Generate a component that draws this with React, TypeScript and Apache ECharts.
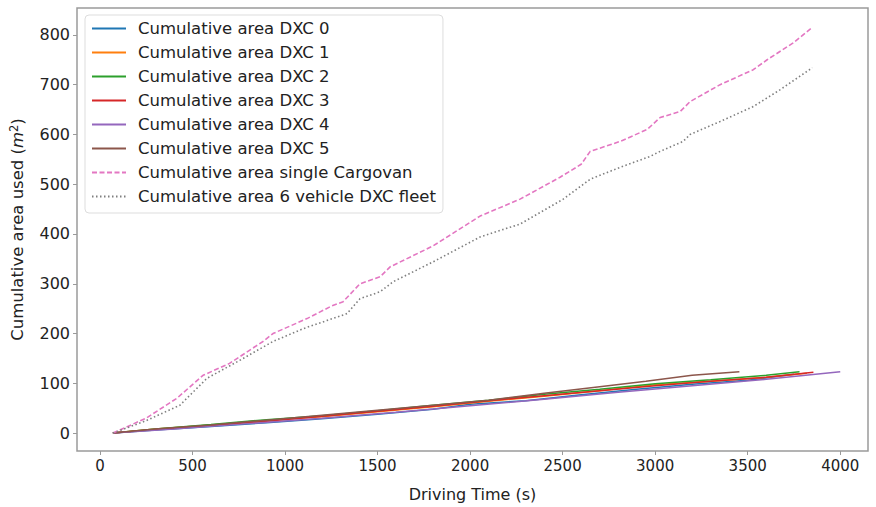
import React, { useEffect, useRef } from "react";
import * as echarts from "echarts";

const seriesNames = [
  "Cumulative area DXC 0",
  "Cumulative area DXC 1",
  "Cumulative area DXC 2",
  "Cumulative area DXC 3",
  "Cumulative area DXC 4",
  "Cumulative area DXC 5",
  "Cumulative area single Cargovan",
  "Cumulative area 6 vehicle DXC fleet",
];

const dxc0 = [[70,0],[300,6],[600,13],[900,21],[1200,29],[1500,38],[1800,48],[2000,58],[2300,65],[2600,77],[2900,88],[3200,98],[3500,106],[3750,118]];
const dxc1 = [[70,0],[300,8],[600,16],[900,25],[1200,33],[1500,43],[1800,53],[2100,64],[2400,74],[2700,85],[3000,97],[3300,104],[3600,112],[3820,120]];
const dxc2 = [[70,0],[300,8],[600,17],[900,27],[1200,35],[1500,45],[1800,56],[2100,66],[2400,78],[2700,88],[3000,99],[3300,107],[3600,116],[3780,123]];
const dxc3 = [[70,0],[300,7],[600,15],[900,24],[1200,34],[1500,44],[1800,54],[2100,65],[2400,75],[2700,85],[3000,95],[3300,104],[3600,112],[3855,122]];
const dxc4 = [[70,0],[400,8],[800,19],[1200,30],[1600,42],[2000,55],[2400,68],[2800,82],[3200,95],[3600,108],[4000,123]];
const dxc5 = [[70,0],[300,8],[600,16],[900,26],[1200,36],[1500,46],[1800,56],[2100,66],[2400,80],[2700,93],[2950,104],[3200,116],[3455,123]];
const cargovan = [[70,0],[250,30],[416,70],[557,116],[700,140],[881,184],[935,200],[1119,230],[1250,255],[1314,264],[1405,300],[1514,314],[1568,334],[1800,376],[2054,436],[2270,470],[2486,514],[2600,540],[2649,566],[2811,586],[2957,610],[3027,634],[3135,646],[3189,666],[3351,700],[3530,730],[3605,750],[3746,784],[3849,815]];
const fleet = [[70,0],[250,25],[432,56],[578,110],[750,145],[935,184],[1100,210],[1335,240],[1405,270],[1514,284],[1584,304],[1800,344],[2054,394],[2270,420],[2503,470],[2649,510],[2811,534],[2973,556],[3027,566],[3151,586],[3189,600],[3351,626],[3530,656],[3676,690],[3849,734]];

const xTicks = [0, 500, 1000, 1500, 2000, 2500, 3000, 3500, 4000];
const yTicks = [0, 100, 200, 300, 400, 500, 600, 700, 800];

const colors = ["#1f77b4", "#ff7f0e", "#2ca02c", "#d62728", "#9467bd", "#8c564b", "#e377c2", "#7f7f7f"];
const dataList = [dxc0, dxc1, dxc2, dxc3, dxc4, dxc5, cargovan, fleet];

export default function App() {
  const ref = useRef<HTMLDivElement>(null);
  useEffect(() => {
    if (!ref.current) return;
    const chart = echarts.init(ref.current, null, { renderer: "svg" });
    const font = "DejaVu Sans";
    const series = dataList.map((d, i) => ({
      name: seriesNames[i],
      type: "line",
      data: d,
      symbol: "none",
      showSymbol: false,
      lineStyle: {
        color: colors[i],
        width: i >= 6 ? 1.6 : 1.5,
        type: i === 6 ? [5, 2.5] : i === 7 ? [1.5, 2.5] : "solid",
      },
      itemStyle: { color: colors[i] },
      z: i >= 6 ? 3 : 2,
    }));
    chart.setOption({
      animation: false,
      backgroundColor: "#ffffff",
      grid: {
        left: 77,
        right: 8,
        top: 8,
        bottom: 54,
        show: true,
        borderColor: "#9a9a9a",
        borderWidth: 1.5,
      },
      legend: {
        orient: "vertical",
        left: 85,
        top: 15,
        padding: [4, 7, 7, 6],
        itemWidth: 34,
        itemHeight: 14,
        itemGap: 5,
        itemTextGap: 12,
        itemStyle: { opacity: 0 },
        backgroundColor: "#ffffff",
        borderColor: "#dddddd",
        borderWidth: 1,
        borderRadius: 4,
        textStyle: { fontFamily: font, fontSize: 16.5, color: "#222222", lineHeight: 19, padding: [0, 0, 0, 7] },
        data: seriesNames,
      },
      xAxis: {
        type: "value",
        min: -124,
        max: 4150,
        name: "Driving Time (s)",
        nameLocation: "middle",
        nameGap: 35,
        nameTextStyle: { fontFamily: font, fontSize: 16, color: "#222222" },
        axisLine: { show: false, onZero: false },
        splitLine: { show: false },
        axisTick: { show: true, length: 4, lineStyle: { color: "#9a9a9a" }, customValues: xTicks },
        axisLabel: {
          fontFamily: font,
          fontSize: 15,
          color: "#222222",
          margin: 7,
          customValues: xTicks,
          formatter: (v: number) => String(v),
        },
      },
      yAxis: {
        type: "value",
        min: -36,
        max: 854,
        name: "Cumulative area used ({it|m}{sup|2})",
        nameLocation: "middle",
        nameRotate: 90,
        nameGap: 50,
        nameTextStyle: {
          fontFamily: font,
          fontSize: 16.5,
          color: "#222222",
          rich: {
            it: { fontFamily: font, fontSize: 16.5, fontStyle: "italic", color: "#222222" },
            sup: { fontFamily: font, fontSize: 11.5, color: "#222222", padding: [0, 0, 7, 0] },
          },
        },
        axisLine: { show: false, onZero: false },
        splitLine: { show: false },
        axisTick: { show: true, length: 4, lineStyle: { color: "#9a9a9a" }, customValues: yTicks },
        axisLabel: {
          fontFamily: font,
          fontSize: 16,
          color: "#222222",
          margin: 7,
          customValues: yTicks,
          formatter: (v: number) => String(v),
        },
      },
      series,
    });
    return () => chart.dispose();
  }, []);
  return <div ref={ref} style={{ width: 876, height: 507, position: "absolute", left: 0, top: 0 }} />;
}
